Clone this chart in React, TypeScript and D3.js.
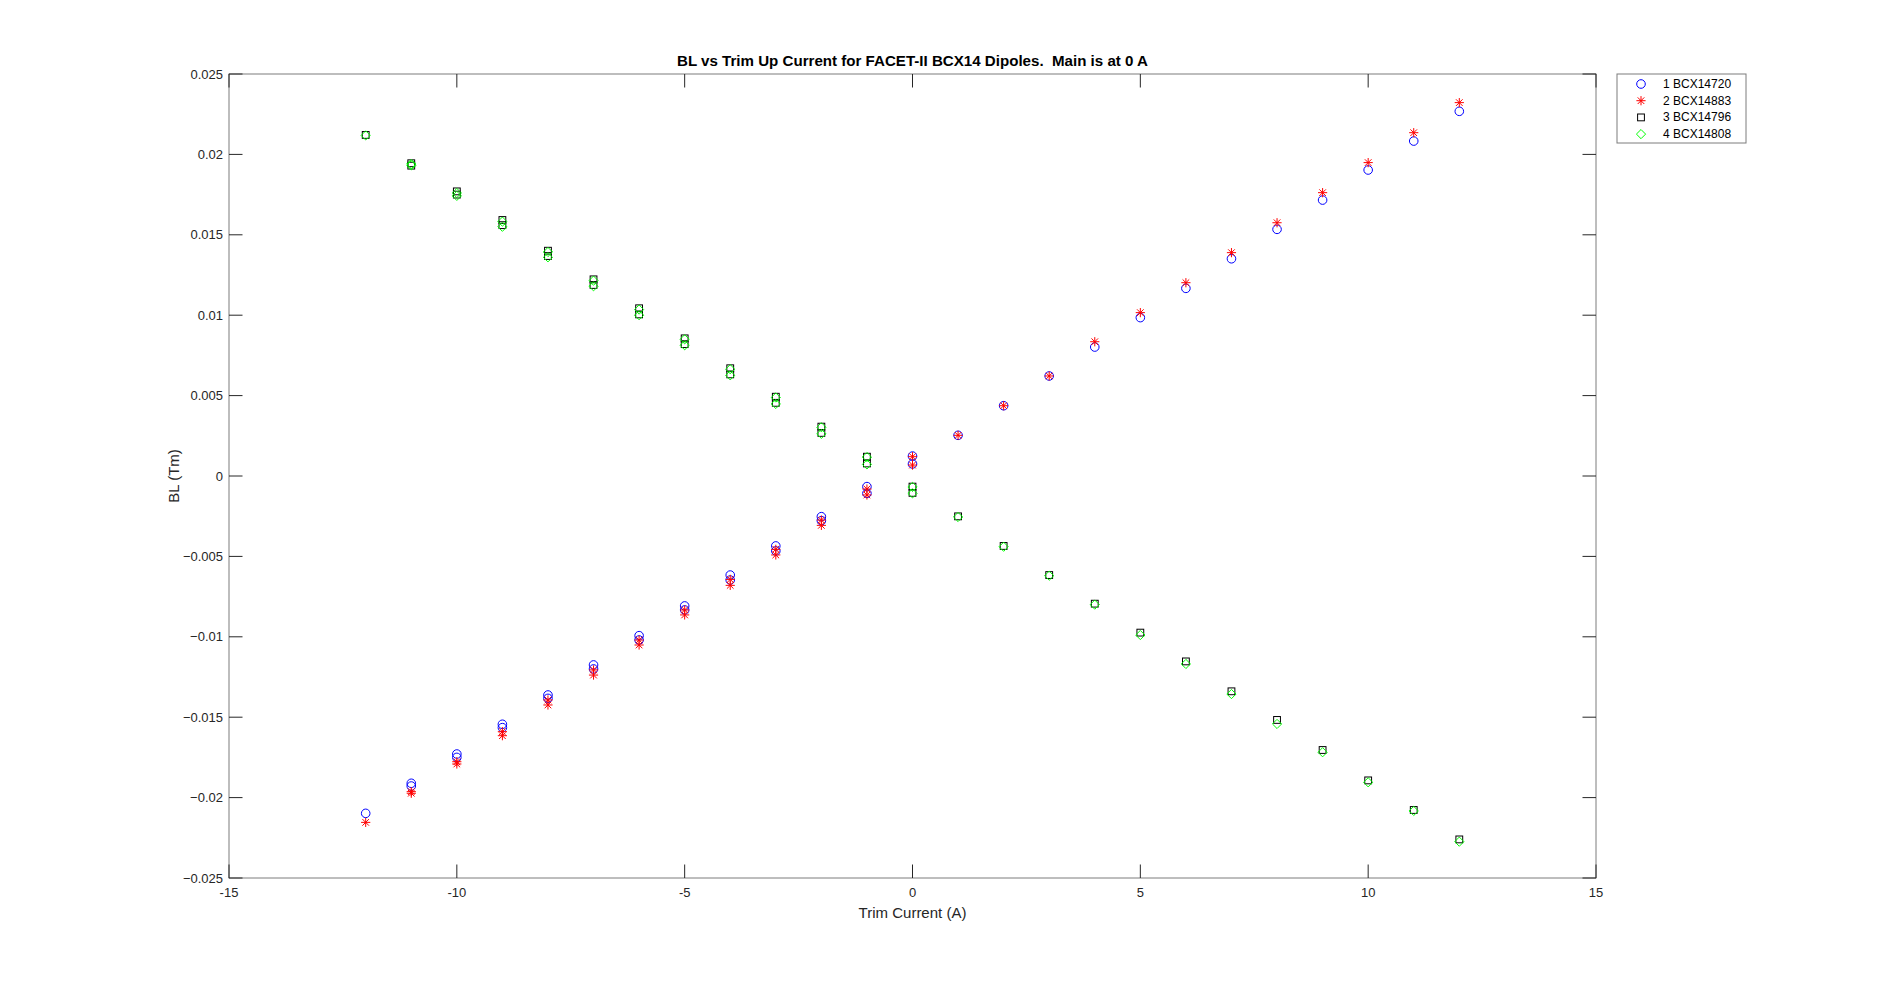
import React from "react";
import * as d3 from "d3";

// Trim current sequence: 0 -> -12 (down pass), then -11 -> 12 (up pass)
const downCurrents = [0, -1, -2, -3, -4, -5, -6, -7, -8, -9, -10, -11, -12];
const upCurrents = [-11, -10, -9, -8, -7, -6, -5, -4, -3, -2, -1, 0, 1, 2, 3, 4, 5, 6, 7, 8, 9, 10, 11, 12];
const trimCurrent = [...downCurrents, ...upCurrents];

const bl1_BCX14720 = [
  0.00124, -0.00066, -0.00253, -0.00435, -0.00616, -0.00808, -0.00993, -0.01175, -0.01362, -0.01544, -0.01729, -0.01911, -0.02098,
  -0.01928, -0.0175, -0.01565, -0.01383, -0.012, -0.0102, -0.00833, -0.00647, -0.00466, -0.00278, -0.00108, 0.00075,
  0.00253, 0.00437, 0.00622, 0.00802, 0.00985, 0.01167, 0.01351, 0.01534, 0.01716, 0.01903, 0.02083, 0.02268,
];
const bl2_BCX14883 = [
  0.0012, -0.00081, -0.00274, -0.00456, -0.00643, -0.00833, -0.0102, -0.01206, -0.01393, -0.0159, -0.01777, -0.01963, -0.02154,
  -0.01973, -0.01791, -0.01615, -0.01424, -0.01238, -0.01051, -0.00864, -0.0068, -0.00491, -0.00307, -0.00118, 0.00068,
  0.00253, 0.00437, 0.00622, 0.00835, 0.01016, 0.01202, 0.01389, 0.01575, 0.01762, 0.01949, 0.02135, 0.02322,
];
const bl3_BCX14796 = [
  -0.00066, 0.0012, 0.00307, 0.00493, 0.0067, 0.00856, 0.01043, 0.01223, 0.01401, 0.01592, 0.0177, 0.01945, 0.02121,
  0.0193, 0.0175, 0.0156, 0.01368, 0.01188, 0.01005, 0.0082, 0.00632, 0.00455, 0.00268, 0.00078, -0.00105,
  -0.00251, -0.00435, -0.00616, -0.00794, -0.00974, -0.01153, -0.01339, -0.01517, -0.01704, -0.01893, -0.02077, -0.0226,
];
const bl4_BCX14808 = [
  -0.00068, 0.00118, 0.00303, 0.00488, 0.00664, 0.0085, 0.01035, 0.01215, 0.01393, 0.01582, 0.0176, 0.0194, 0.02118,
  0.01932, 0.01742, 0.0155, 0.0136, 0.0118, 0.01, 0.00813, 0.00626, 0.00448, 0.00262, 0.00072, -0.00108,
  -0.00255, -0.0044, -0.0062, -0.008, -0.00989, -0.01169, -0.01356, -0.01542, -0.01718, -0.01905, -0.02083, -0.02274,
];

const seriesNames = ["1 BCX14720", "2 BCX14883", "3 BCX14796", "4 BCX14808"];
const seriesValues = [bl1_BCX14720, bl2_BCX14883, bl3_BCX14796, bl4_BCX14808];
const seriesColors = ["#0000ff", "#ff0000", "#000000", "#00ff00"];
const seriesMarkers = ["circle", "star", "square", "diamond"];

const xTicks = [-15, -10, -5, 0, 5, 10, 15];
const yTicks = [-0.025, -0.02, -0.015, -0.01, -0.005, 0, 0.005, 0.01, 0.015, 0.02, 0.025];

const titleText = "BL vs Trim Up Current for FACET-II BCX14 Dipoles.  Main is at 0 A";
const xLabel = "Trim Current (A)";
const yLabel = "BL (Tm)";

const W = 1904;
const H = 987;
const plot = { left: 229, right: 1596, top: 74, bottom: 878 };
const FONT = "'Liberation Sans', Arial, Helvetica, sans-serif";
const AXIS_COLOR = "#262626";

function Marker({ kind, x, y, color }: { kind: string; x: number; y: number; color: string }) {
  const sw = 1;
  if (kind === "circle") {
    return <circle cx={x} cy={y} r={4.3} fill="none" stroke={color} strokeWidth={sw} />;
  }
  if (kind === "square") {
    const s = 3.4;
    return <rect x={x - s} y={y - s} width={2 * s} height={2 * s} fill="none" stroke={color} strokeWidth={sw} />;
  }
  if (kind === "diamond") {
    const s = 4.6;
    const p = `M${x},${y - s}L${x + s},${y}L${x},${y + s}L${x - s},${y}Z`;
    return <path d={p} fill="none" stroke={color} strokeWidth={sw} />;
  }
  const s = 4.6;
  const d = s * 0.72;
  const p = `M${x - s},${y}L${x + s},${y}M${x},${y - s}L${x},${y + s}M${x - d},${y - d}L${x + d},${y + d}M${x - d},${y + d}L${x + d},${y - d}`;
  return <path d={p} fill="none" stroke={color} strokeWidth={sw} />;
}

export default function App() {
  const xScale = d3.scaleLinear().domain([-15, 15]).range([plot.left, plot.right]);
  const yScale = d3.scaleLinear().domain([-0.025, 0.025]).range([plot.bottom, plot.top]);
  const tickLen = 13.5;
  const yFmt = (v: number) => (v === 0 ? "0" : d3.format("")(+v.toFixed(3)));

  const legend = { x: 1617, y: 74, w: 129, h: 69 };

  return (
    <svg
      width={W}
      height={H}
      style={{ position: "absolute", left: 0, top: 0, background: "#fff" }}
      fontFamily={FONT}
    >
      <rect x={0} y={0} width={W} height={H} fill="#ffffff" />
      <rect x={plot.left} y={plot.top} width={plot.right - plot.left} height={plot.bottom - plot.top} fill="#ffffff" />

      {/* data */}
      {seriesValues.map((vals, si) => (
        <g key={si}>
          {vals.map((v, i) => (
            <Marker
              key={i}
              kind={seriesMarkers[si]}
              x={xScale(trimCurrent[i])}
              y={yScale(v)}
              color={seriesColors[si]}
            />
          ))}
        </g>
      ))}

      {/* axes box */}
      <rect
        x={plot.left}
        y={plot.top}
        width={plot.right - plot.left}
        height={plot.bottom - plot.top}
        fill="none"
        stroke={AXIS_COLOR}
        strokeWidth={1}
        opacity={0.6}
      />
      {xTicks.map((t) => (
        <g key={"xt" + t}>
          <line x1={xScale(t)} x2={xScale(t)} y1={plot.bottom} y2={plot.bottom - tickLen} stroke={AXIS_COLOR} strokeWidth={1} />
          <line x1={xScale(t)} x2={xScale(t)} y1={plot.top} y2={plot.top + tickLen} stroke={AXIS_COLOR} strokeWidth={1} />
          <text x={xScale(t)} y={plot.bottom + 19} textAnchor="middle" fontSize={13} fill={AXIS_COLOR}>
            {t}
          </text>
        </g>
      ))}
      {yTicks.map((t) => (
        <g key={"yt" + t}>
          <line x1={plot.left} x2={plot.left + tickLen} y1={yScale(t)} y2={yScale(t)} stroke={AXIS_COLOR} strokeWidth={1} />
          <line x1={plot.right} x2={plot.right - tickLen} y1={yScale(t)} y2={yScale(t)} stroke={AXIS_COLOR} strokeWidth={1} />
          <text x={plot.left - 6} y={yScale(t) + 4.5} textAnchor="end" fontSize={13} fill={AXIS_COLOR}>
            {yFmt(t)}
          </text>
        </g>
      ))}

      {/* labels */}
      <text x={(plot.left + plot.right) / 2} y={918} textAnchor="middle" fontSize={15} fill={AXIS_COLOR}>
        {xLabel}
      </text>
      <text
        transform={`translate(179,${(plot.top + plot.bottom) / 2}) rotate(-90)`}
        textAnchor="middle"
        fontSize={15}
        fill={AXIS_COLOR}
      >
        {yLabel}
      </text>
      <text
        x={(plot.left + plot.right) / 2}
        y={66}
        textAnchor="middle"
        fontSize={15}
        fontWeight="bold"
        fill="#000"
        textLength={471}
        lengthAdjust="spacingAndGlyphs"
        style={{ whiteSpace: "pre" }}
      >
        {titleText}
      </text>

      {/* legend */}
      <rect x={legend.x} y={legend.y} width={legend.w} height={legend.h} fill="#fff" stroke={AXIS_COLOR} strokeWidth={1} opacity={0.6} />
      {seriesNames.map((name, i) => {
        const cy = legend.y + 10 + i * 16.7;
        return (
          <g key={name}>
            <Marker kind={seriesMarkers[i]} x={legend.x + 24} y={cy} color={seriesColors[i]} />
            <text x={legend.x + 46} y={cy + 4} fontSize={12} fill="#000">
              {name}
            </text>
          </g>
        );
      })}
    </svg>
  );
}
